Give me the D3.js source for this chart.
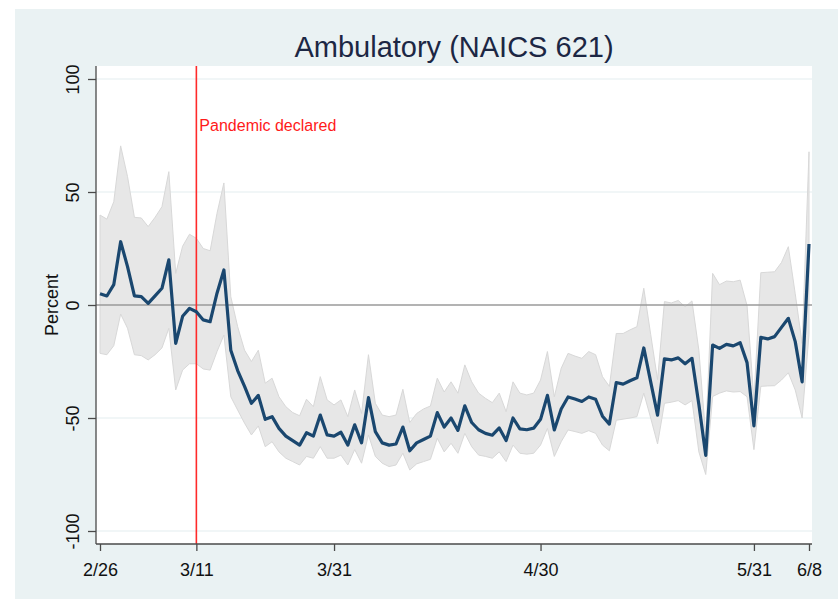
<!DOCTYPE html>
<html>
<head>
<meta charset="utf-8">
<script src="https://cdn.jsdelivr.net/npm/d3@7"></script>
<style>
  body { margin: 0; background: #ffffff; }
  text { font-family: 'Liberation Sans', Arial, sans-serif; }
</style>
</head>
<body>
<div id="visualization"></div>
<script>
// Data: daily percent change, 2/26 through 6/8.
const startDay = '2020-02-26';

const estimates = [
  5, 4, 9, 28, 17, 4, 3.7, 0.7, 4, 7.4, 20, -17, -5, -1.5, -3, -6.6, -7.4, 5.2, 15.5,
  -20, -29, -36, -43.5, -40, -50.6, -49.4, -54.6, -58, -60, -62, -56.5, -58, -48.7, -57.5,
  -58, -56.3, -62, -53, -61, -41, -56, -61, -62, -61.5, -54, -64.5, -61, -59.5, -58, -47.6, -54,
  -50, -55.5, -44.6, -52, -55.2, -56.8, -57.6, -54.4, -60, -50, -54.8, -55.2, -54.5, -50.6, -40, -55.3, -46,
  -40.7, -41.6, -42.7, -40.7, -41.7, -49.2, -52.7, -34.3, -35, -33.5, -32.2, -19, -34, -48.7,
  -23.8, -24.3, -23.4, -26, -23.6, -44, -66.5, -17.7, -19.2, -17.4, -18.1, -16.7, -25.5, -53.5,
  -14.3, -15, -14, -9.9, -5.9, -16.2, -34, 27
];

const upperBounds = [
  39.8, 38, 45.7, 70.4, 56.8, 38.8, 38.5, 34.7, 38.8, 43.5, 59, 14, 26, 31.3, 29.5, 25, 24, 40.6, 54,
  3.7, -9.6, -20, -25, -20, -34.6, -32.4, -40.6, -45, -47.6, -49, -41.7, -45, -31.7, -42,
  -44.2, -42, -49.4, -37.6, -48, -22, -43.5, -48.7, -49.4, -48.7, -37.3, -52, -48, -46, -44.7, -32.4, -38.5,
  -34, -39, -26.5, -34, -39, -41.3, -43.2, -39, -47.2, -34, -39, -39.8, -39, -33.2, -20.6, -40.6, -28,
  -21.4, -22.6, -23.6, -20.6, -22, -31.7, -36, -12.6, -12.6, -11, -9.6, 7.4, -13, -33,
  1.5, 0.9, 2, -0.8, 1.8, -20, -58, 14, 9, 10.6, 10.3, 11, -0.3, -42,
  14.3, 14.5, 14.7, 18.8, 25.8, 5, -17, 67.8
];

const lowerBounds = [
  -21.4, -22, -18, -4, -10.3, -22, -22.4, -24.3, -22, -19, -10.3, -37.6, -28.8, -26, -26, -28.3, -28.8, -20.6, -13.3,
  -40.6, -46.5, -52.3, -57.5, -53.5, -62.7, -60.5, -65, -67.8, -69.3, -70.8, -67, -67.8, -62.7, -67.8,
  -67.8, -66.4, -70.8, -64, -70, -57.5, -67, -70, -71.5, -70.8, -65.6, -73, -70.3, -69.3, -68.3, -59, -65,
  -61.2, -65.6, -56.8, -62.7, -66.4, -67, -67.8, -65, -69.3, -62, -65.6, -66, -65.6, -62, -54.6, -67, -60.5,
  -55.3, -56, -56.8, -55.6, -56.8, -62, -64.5, -51, -50.5, -50, -49.4, -39, -50, -61.5,
  -43.5, -43, -42.3, -44.2, -42.3, -65, -75, -40.5, -39, -38, -38.5, -38.3, -40.6, -64,
  -36, -35.8, -35.7, -33.2, -30, -37.6, -50, -13
];

// Axis ticks.
const yTicks = [-100, -50, 0, 50, 100];
const xTickDates = ['2020-02-26', '2020-03-11', '2020-03-31', '2020-04-30', '2020-05-31', '2020-06-08'];
const xTickLabels = ['2/26', '3/11', '3/31', '4/30', '5/31', '6/8'];

const pandemicDate = '2020-03-11';
const pandemicLabel = 'Pandemic declared';
const chartTitle = 'Ambulatory (NAICS 621)';
const yTitle = 'Percent';

// Dimensions.
const dimensions = {
  width: 838,
  height: 599,
  plotLeft: 96,
  plotRight: 812,
  plotTop: 66,
  plotBottom: 544,
};

const parseDay = d3.utcParse('%Y-%m-%d');
const first = parseDay(startDay);
const rows = estimates.map((v, i) => {
  return {
    date: d3.utcDay.offset(first, i),
    value: v,
    upper: upperBounds[i],
    lower: lowerBounds[i],
  };
});

// Scales.
const x = d3.scaleUtc()
      .domain([first, parseDay('2020-06-08')])
      .range([100, 809]);

const y = d3.scaleLinear()
      .domain([-100, 100])
      .range([531, 79]);

// SVG canvas.
const svg = d3.select('div#visualization')
      .append('svg')
      .attr('width', dimensions.width)
      .attr('height', dimensions.height);

svg.append('rect')
  .attr('x', 15)
  .attr('y', 9)
  .attr('width', dimensions.width - 15)
  .attr('height', dimensions.height - 9)
  .attr('fill', '#eaf2f3');

svg.append('rect')
  .attr('x', dimensions.plotLeft)
  .attr('y', dimensions.plotTop)
  .attr('width', dimensions.plotRight - dimensions.plotLeft)
  .attr('height', dimensions.plotBottom - dimensions.plotTop)
  .attr('fill', '#ffffff');

// Gridlines.
svg.append('g')
  .selectAll('line')
  .data(yTicks.filter((d) => d !== 0))
  .join('line')
  .attr('x1', dimensions.plotLeft)
  .attr('x2', dimensions.plotRight)
  .attr('y1', (d) => y(d))
  .attr('y2', (d) => y(d))
  .attr('stroke', '#e3edef')
  .attr('stroke-width', 1.2);

// Confidence band.
const band = d3.area()
      .x((d) => x(d.date))
      .y0((d) => y(d.lower))
      .y1((d) => y(d.upper));

svg.append('path')
  .datum(rows)
  .attr('d', band)
  .attr('fill', '#e7e7e7')
  .attr('stroke', '#d8d8d8')
  .attr('stroke-width', 1);

// Zero line.
svg.append('line')
  .attr('x1', dimensions.plotLeft)
  .attr('x2', dimensions.plotRight)
  .attr('y1', y(0))
  .attr('y2', y(0))
  .attr('stroke', '#9a9a9a')
  .attr('stroke-width', 1.5);

// Pandemic marker.
svg.append('line')
  .attr('x1', x(parseDay(pandemicDate)))
  .attr('x2', x(parseDay(pandemicDate)))
  .attr('y1', dimensions.plotTop)
  .attr('y2', dimensions.plotBottom)
  .attr('stroke', '#ff2a2a')
  .attr('stroke-width', 1.6);

svg.append('text')
  .attr('x', x(parseDay(pandemicDate)) + 3)
  .attr('y', 131)
  .attr('fill', '#ff1a1a')
  .style('font-size', '16px')
  .text(pandemicLabel);

// Estimate line.
const line = d3.line()
      .x((d) => x(d.date))
      .y((d) => y(d.value));

svg.append('path')
  .datum(rows)
  .attr('d', line)
  .attr('fill', 'none')
  .attr('stroke', '#1a476f')
  .attr('stroke-width', 3.2)
  .attr('stroke-linejoin', 'round');

// Y axis.
const yAxis = svg.append('g')
      .attr('transform', `translate(${dimensions.plotLeft},0)`)
      .call(d3.axisLeft(y)
            .tickValues(yTicks)
            .tickFormat((d) => String(d))
            .tickSize(8)
            .tickSizeOuter(0));

yAxis.select('.domain')
  .attr('d', `M0,${dimensions.plotTop}V${dimensions.plotBottom}`)
  .attr('stroke', '#4a4a4a')
  .attr('stroke-width', 1.3);

yAxis.selectAll('.tick line')
  .attr('stroke', '#4a4a4a')
  .attr('stroke-width', 1.3);

yAxis.selectAll('.tick text')
  .attr('transform', 'rotate(-90)')
  .attr('x', 0)
  .attr('y', -17)
  .attr('dy', 0)
  .attr('text-anchor', 'middle')
  .attr('fill', '#111111')
  .style('font-size', '18px');

// X axis.
const xAxis = svg.append('g')
      .attr('transform', `translate(0,${dimensions.plotBottom})`)
      .call(d3.axisBottom(x)
            .tickValues(xTickDates.map(parseDay))
            .tickFormat((d, i) => xTickLabels[i])
            .tickSize(7)
            .tickSizeOuter(0));

xAxis.select('.domain')
  .attr('d', `M${dimensions.plotLeft},0H${dimensions.plotRight}`)
  .attr('stroke', '#4a4a4a')
  .attr('stroke-width', 1.3);

xAxis.selectAll('.tick line')
  .attr('stroke', '#4a4a4a')
  .attr('stroke-width', 1.3);

xAxis.selectAll('.tick text')
  .attr('y', 32)
  .attr('dy', 0)
  .attr('fill', '#111111')
  .style('font-size', '18px');

// Axis title.
svg.append('text')
  .attr('transform', `translate(58,${y(0)}) rotate(-90)`)
  .attr('text-anchor', 'middle')
  .attr('fill', '#111111')
  .style('font-size', '18px')
  .text(yTitle);

// Title.
svg.append('text')
  .attr('x', (dimensions.plotLeft + dimensions.plotRight) / 2)
  .attr('y', 57)
  .attr('text-anchor', 'middle')
  .attr('fill', '#1c2744')
  .style('font-size', '29px')
  .text(chartTitle);
</script>
</body>
</html>
